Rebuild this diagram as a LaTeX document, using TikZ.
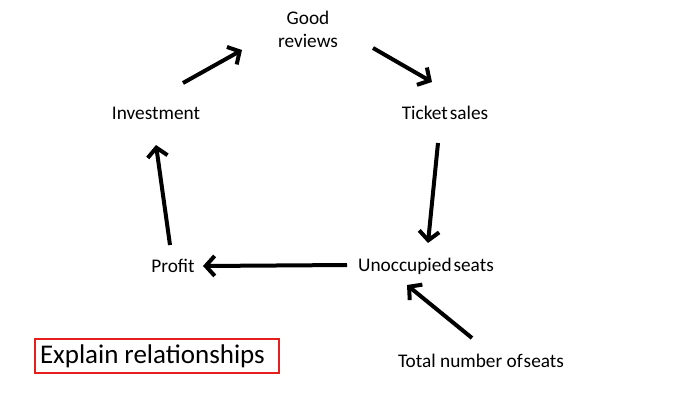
\documentclass[tikz,border=0pt]{standalone}
\usepackage{fontspec}
\setmainfont{Carlito}
\usetikzlibrary{arrows.meta}
\begin{document}
\begin{tikzpicture}[x=1pt,y=-1pt,
  lbl/.style={inner sep=0pt,align=center,font=\fontsize{19.3}{23}\selectfont},
  arr/.style={line width=4pt,-{Straight Barb[length=9pt,width=20pt]}}]
\useasboundingbox (0,0) rectangle (692,400);
\node[lbl] (good) at (308,29) {Good\\reviews};
\node[lbl] (tick) at (445,113) {Ticket\hspace{0.1em}sales};
\node[lbl] (inv) at (156,113) {Investment};
\node[lbl] (prof) at (173,266) {Profit};
\node[lbl] (unocc) at (426,266) {Unoccupied\hspace{0.1em}seats};
\node[lbl] (tot) at (481,361) {Total number of\hspace{0.05em}seats};
\node[draw={rgb,255:red,230;green,30;blue,30},line width=1.5pt,minimum width=244pt,minimum height=34pt,inner xsep=5pt,text width=234pt,align=left,font=\fontsize{27}{30}\selectfont] (expl) at (157,356) {Explain\hspace{0.22em}relationships};
\draw[arr] ([shift={(27,-30)}]inv.center) -- ([shift={(-66,21)}]good.center);
\draw[arr] ([shift={(65,19)}]good.center) -- ([shift={(-13,-31)}]tick.center);
\draw[arr] ([shift={(-7,30)}]tick.center) -- ([shift={(2,-23)}]unocc.center);
\draw[arr] ([shift={(-79,-1)}]unocc.center) -- ([shift={(30,0)}]prof.center);
\draw[arr] ([shift={(-3,-21)}]prof.center) -- ([shift={(0,32)}]inv.center);
\draw[arr] ([shift={(-9,-23)}]tot.center) -- ([shift={(-19,19)}]unocc.center);
\end{tikzpicture}
\end{document}
